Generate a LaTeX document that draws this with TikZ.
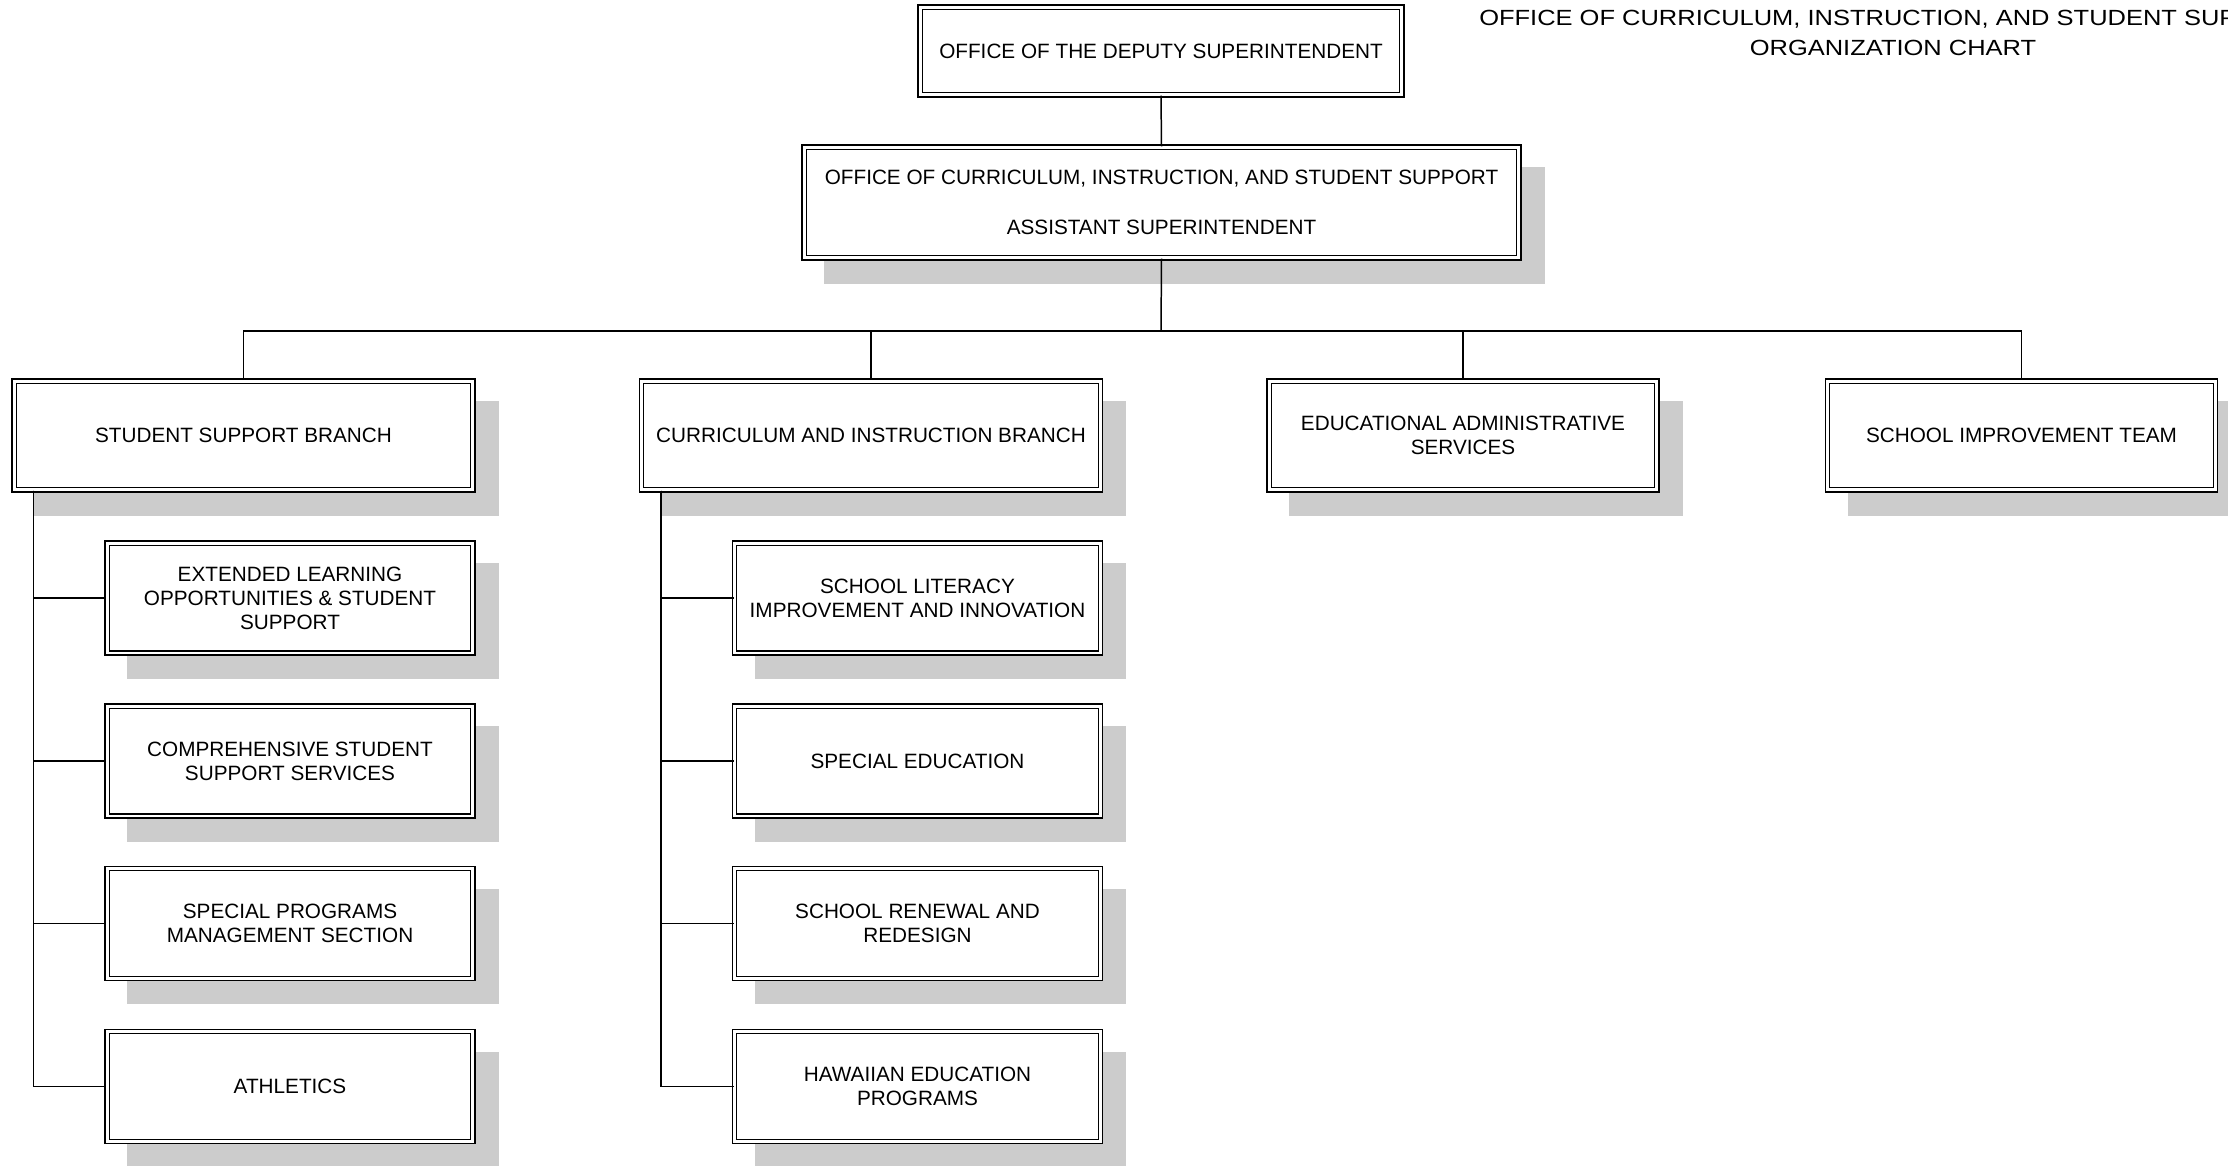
\documentclass[tikz,border=0pt]{standalone}
\usepackage{fontspec}
\setmainfont{Liberation Sans}
\newfontfamily\titlefont[FakeStretch=1.16]{Liberation Sans}
\usepackage{xcolor}
\definecolor{shadowgray}{HTML}{CCCCCC}
\usepackage{tikz}
\usetikzlibrary{shadows}

\begin{document}
\begin{tikzpicture}[x=0.02cm, y=-0.02cm, line width=0.85pt,
  font=\fontsize{11.8}{13.7}\selectfont,
  box/.style={rectangle, draw, double, double distance=1.7pt, line width=0.8pt,
    fill=white, align=center, inner sep=2pt},
  shadowbox/.style={box, drop shadow={shadow xshift=0.46cm, shadow yshift=-0.46cm,
    fill=shadowgray, draw=shadowgray, line width=3.3pt, opacity=1}},
  branchbox/.style={shadowbox, minimum height=2.18cm},
  unitbox/.style={shadowbox, minimum width=7.32cm, minimum height=2.2cm}]
  \clip (0,0) rectangle (2228,1166);

  % title
  \node[font={\titlefont\fontsize{12.5}{17}\selectfont}, align=center] (title) at (1893,33)
    {OFFICE OF CURRICULUM, INSTRUCTION, AND STUDENT SUPPORT\\ORGANIZATION CHART};

  % top of the chart
  \node[box, minimum width=9.64cm, minimum height=1.76cm] (dep) at (1161,51)
    {OFFICE OF THE DEPUTY SUPERINTENDENT};
  \node[shadowbox, minimum width=14.3cm, minimum height=2.22cm] (asst) at (1161.5,202.5)
    {OFFICE OF CURRICULUM, INSTRUCTION, AND STUDENT SUPPORT\\[14.6pt]ASSISTANT SUPERINTENDENT};

  % branches
  \node[branchbox, minimum width=9.18cm] (ssb) at (243.5,435.5) {STUDENT SUPPORT BRANCH};
  \node[branchbox, minimum width=9.18cm] (cib) at (871,435.5) {CURRICULUM AND INSTRUCTION BRANCH};
  \node[branchbox, minimum width=7.76cm] (eas) at (1463,435.5) {EDUCATIONAL ADMINISTRATIVE\\SERVICES};
  \node[branchbox, minimum width=7.76cm] (sit) at (2021.5,435.5) {SCHOOL IMPROVEMENT TEAM};

  % student support units
  \node[unitbox] (elo) at (290,598) {EXTENDED LEARNING\\OPPORTUNITIES \& STUDENT\\SUPPORT};
  \node[unitbox] (css) at (290,761) {COMPREHENSIVE STUDENT\\SUPPORT SERVICES};
  \node[unitbox] (spm) at (290,923.5) {SPECIAL PROGRAMS\\MANAGEMENT SECTION};
  \node[unitbox] (ath) at (290,1086.5) {ATHLETICS};

  % curriculum and instruction units
  \node[unitbox] (sli) at (917.5,598) {SCHOOL LITERACY\\IMPROVEMENT AND INNOVATION};
  \node[unitbox] (sped) at (917.5,761) {SPECIAL EDUCATION};
  \node[unitbox] (srr) at (917.5,923.5) {SCHOOL RENEWAL AND\\REDESIGN};
  \node[unitbox] (hep) at (917.5,1086.5) {HAWAIIAN EDUCATION\\PROGRAMS};

  % connectors
  \coordinate (bus) at (1161,331);
  \draw (dep.south) -- (asst.north);
  \draw (asst.south) -- (bus);
  \draw (bus) -| (ssb.north);
  \draw (bus) -| (cib.north);
  \draw (bus) -| (eas.north);
  \draw (bus) -| (sit.north);
  \draw (ssb.south west) ++(20,0) |- (elo.west);
  \draw (ssb.south west) ++(20,0) |- (css.west);
  \draw (ssb.south west) ++(20,0) |- (spm.west);
  \draw (ssb.south west) ++(20,0) |- (ath.west);
  \draw (cib.south west) ++(20,0) |- (sli.west);
  \draw (cib.south west) ++(20,0) |- (sped.west);
  \draw (cib.south west) ++(20,0) |- (srr.west);
  \draw (cib.south west) ++(20,0) |- (hep.west);
\end{tikzpicture}
\end{document}
